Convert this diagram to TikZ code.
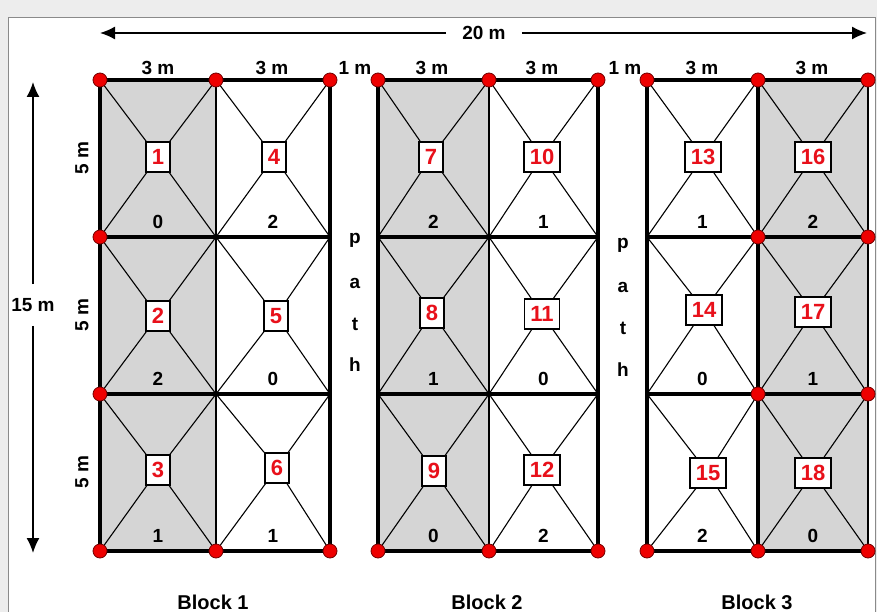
\documentclass[tikz,border=0pt]{standalone}
\usepackage{fontspec}
\setmainfont{Liberation Sans}
\usetikzlibrary{arrows.meta}
\definecolor{bggray}{HTML}{EDEDED}
\definecolor{cellgray}{HTML}{D5D5D5}
\definecolor{dotred}{HTML}{EE0000}
\definecolor{numred}{HTML}{E8101A}
\definecolor{framegray}{HTML}{8A8A8A}
\newcommand{\plotcell}[9]{%
  \coordinate (#1tl) at (#2,#4);
  \coordinate (#1tr) at (#3,#4);
  \coordinate (#1bl) at (#2,#5);
  \coordinate (#1br) at (#3,#5);
  \node[idbox] (#1box) at (#6,#7) {#8};
  \draw[diag] (#1tl) -- (#1box);
  \draw[diag] (#1tr) -- (#1box);
  \draw[diag] (#1box) -- (#1bl);
  \draw[diag] (#1box) -- (#1br);
  \node[cnt] (#1cnt) at ({(#2+#3)/2},{#5-15}) {#9};
}
\begin{document}
\begin{tikzpicture}[x=1pt,y=-1pt,
  thickln/.style={line width=3.5pt, line cap=rect},
  thinln/.style={line width=1.3pt},
  diag/.style={line width=1.1pt},
  idbox/.style={draw, line width=1.5pt, fill=white, text=numred,
    font=\fontsize{22}{22}\selectfont\bfseries, inner xsep=6pt, inner ysep=0pt,
    minimum height=30pt, minimum width=24pt},
  cnt/.style={font=\fontsize{19}{19}\selectfont\bfseries, inner sep=0pt},
  dimlbl/.style={font=\fontsize{19}{19}\selectfont\bfseries, inner sep=0pt},
  blocklbl/.style={font=\fontsize{20}{20}\selectfont\bfseries, inner sep=0pt},
  dot/.style={circle, fill=dotred, draw=black!55!red, line width=0.8pt,
    minimum size=14pt, inner sep=0pt},
  dimarrow/.style={line width=1.5pt, -{Latex[length=15pt,width=13pt]}},
]
\useasboundingbox (0,0) rectangle (877,612);
\fill[bggray] (0,0) rectangle (877,612);
\draw[framegray, fill=white, line width=1pt] (8,18) rectangle (875,640);

% gray columns
\fill[cellgray] (100,80) rectangle (216,551);
\fill[cellgray] (378,80) rectangle (489,551);
\fill[cellgray] (758,80) rectangle (868,551);

% cells: name, xl, xr, yt, yb, boxx, boxy, id, count
\plotcell{c1}{100}{216}{80}{237}{158}{157}{1}{0}
\plotcell{c2}{100}{216}{237}{394}{158}{316}{2}{2}
\plotcell{c3}{100}{216}{394}{551}{158}{470}{3}{1}
\plotcell{c4}{216}{330}{80}{237}{274}{157}{4}{2}
\plotcell{c5}{216}{330}{237}{394}{276}{316}{5}{0}
\plotcell{c6}{216}{330}{394}{551}{277}{468}{6}{1}
\plotcell{c7}{378}{489}{80}{237}{431}{157}{7}{2}
\plotcell{c8}{378}{489}{237}{394}{432}{313}{8}{1}
\plotcell{c9}{378}{489}{394}{551}{434}{471}{9}{0}
\plotcell{c10}{489}{598}{80}{237}{542}{157}{10}{1}
\plotcell{c11}{489}{598}{237}{394}{542}{314}{11}{0}
\plotcell{c12}{489}{598}{394}{551}{542}{470}{12}{2}
\plotcell{c13}{647}{758}{80}{237}{703}{157}{13}{1}
\plotcell{c14}{647}{758}{237}{394}{704}{310}{14}{0}
\plotcell{c15}{647}{758}{394}{551}{708}{473}{15}{2}
\plotcell{c16}{758}{868}{80}{237}{813}{157}{16}{2}
\plotcell{c17}{758}{868}{237}{394}{813}{312}{17}{1}
\plotcell{c18}{758}{868}{394}{551}{813}{473}{18}{0}

% block 1 grid
\draw[thinln] (c1tr) -- (c3br);
\draw[thickln] (c1bl) -- (c4br);
\draw[thickln] (c2bl) -- (c5br);
\draw[thickln] (c1tl) -- (c4tr) -- (c6br) -- (c3bl) -- cycle;
% block 2 grid
\draw[thinln] (c7tr) -- (c9br);
\draw[thickln] (c7bl) -- (c10br);
\draw[thickln] (c8bl) -- (c11br);
\draw[thickln] (c7tl) -- (c10tr) -- (c12br) -- (c9bl) -- cycle;
% block 3 grid
\draw[thinln] (c16tr) -- (c18br);
\draw[thickln] (c13tr) -- (c15br);
\draw[thickln] (c13bl) -- (c16br);
\draw[thickln] (c14bl) -- (c17br);
\draw[thickln] (c16tr) -- (c13tl) -- (c15bl) -- (c18br);

% red dots
\foreach \p in {c1tl,c1tr,c4tr,c1bl,c2bl,c3bl,c3br,c6br,
                c7tl,c7tr,c10tr,c9bl,c9br,c12br,
                c13tl,c13tr,c16tr,c13br,c16br,c14br,c17br,c15bl,c15br,c18br}
  \node[dot] (dot-\p) at (\p) {};

% dimension labels
\node[dimlbl] (w1) at (158,68) {3 m};
\node[dimlbl] (w2) at (272,68) {3 m};
\node[dimlbl] (w3) at (432,68) {3 m};
\node[dimlbl] (w4) at (542,68) {3 m};
\node[dimlbl] (w5) at (702,68) {3 m};
\node[dimlbl] (w6) at (812,68) {3 m};
\node[dimlbl] (g1) at (355,68) {1 m};
\node[dimlbl] (g2) at (625,68) {1 m};
\node[dimlbl, rotate=90] (h1) at (82,158) {5 m};
\node[dimlbl, rotate=90] (h2) at (82,315) {5 m};
\node[dimlbl, rotate=90] (h3) at (82,472) {5 m};

% overall dimensions
\coordinate (wl) at (100,33);
\coordinate (wr) at (867,33);
\node[dimlbl, inner xsep=16pt, inner ysep=4pt] (w20) at (484,33) {20 m};
\draw[dimarrow] (w20) -- (wl);
\draw[dimarrow] (w20) -- (wr);
\coordinate (ht) at (33,82);
\coordinate (hb) at (33,553);
\node[dimlbl, inner ysep=14pt, inner xsep=2pt] (h15) at (33,305) {15 m};
\draw[dimarrow] (h15) -- (ht);
\draw[dimarrow] (h15) -- (hb);

% paths
\node[dimlbl] (p1p) at (355,240) {p};
\node[dimlbl] (p1a) at (355,283) {a};
\node[dimlbl] (p1t) at (355,324) {t};
\node[dimlbl] (p1h) at (355,365) {h};
\node[dimlbl] (p2p) at (623,245) {p};
\node[dimlbl] (p2a) at (623,287) {a};
\node[dimlbl] (p2t) at (623,328) {t};
\node[dimlbl] (p2h) at (623,370) {h};

% block labels
\node[blocklbl] (b1) at (213,602) {Block 1};
\node[blocklbl] (b2) at (487,602) {Block 2};
\node[blocklbl] (b3) at (757,602) {Block 3};
\end{tikzpicture}
\end{document}
